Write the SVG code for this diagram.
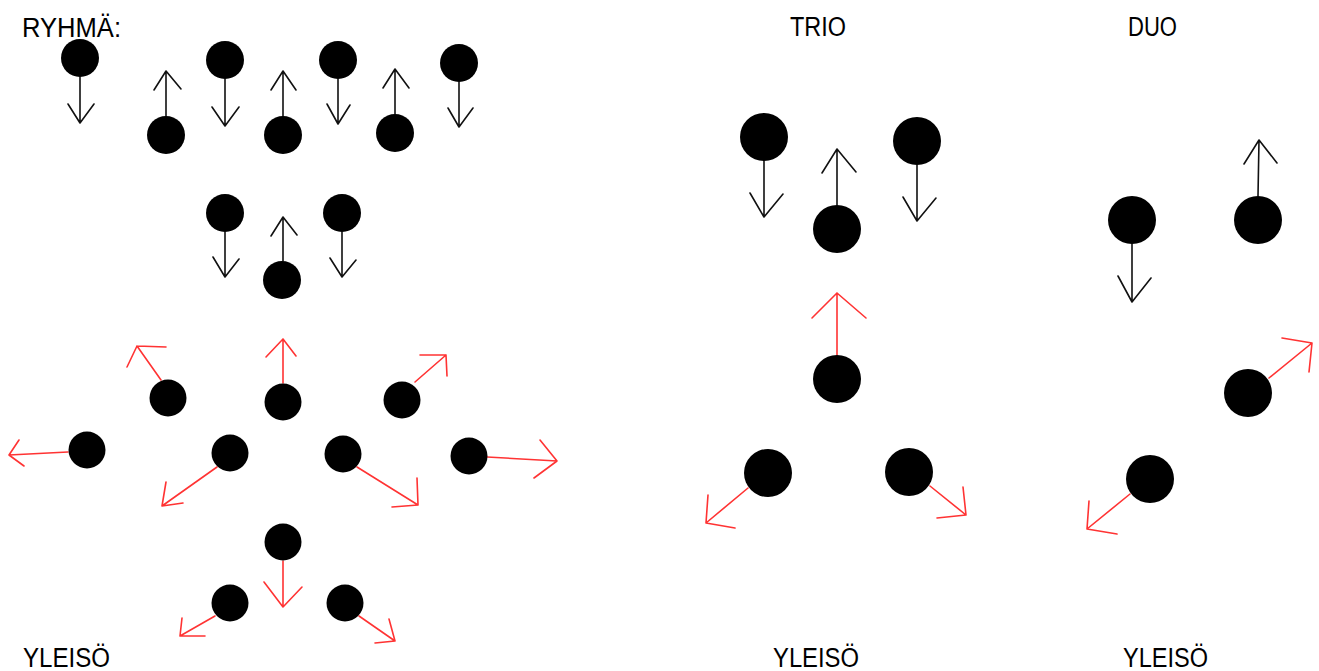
<svg xmlns="http://www.w3.org/2000/svg" width="1319" height="671" viewBox="0 0 1319 671">
<style>
.lbl{font-family:"Liberation Sans",Arial,sans-serif;font-size:27px;fill:#000}
.d{fill:#000}
.b{fill:none;stroke:#111;stroke-width:1.6;stroke-linecap:round;stroke-linejoin:round}
.r{fill:none;stroke:#f33;stroke-width:1.6;stroke-linecap:round;stroke-linejoin:round}
</style>
<rect width="1319" height="671" fill="#fff"/>
<g id="labels">
<text class="lbl" x="22" y="37" textLength="99" lengthAdjust="spacingAndGlyphs">RYHMÄ:</text>
<text class="lbl" x="790" y="36" textLength="56" lengthAdjust="spacingAndGlyphs">TRIO</text>
<text class="lbl" x="1128" y="36" textLength="49" lengthAdjust="spacingAndGlyphs">DUO</text>
<text class="lbl" x="23" y="667" textLength="87" lengthAdjust="spacingAndGlyphs">YLEISÖ</text>
<text class="lbl" x="773" y="667" textLength="86" lengthAdjust="spacingAndGlyphs">YLEISÖ</text>
<text class="lbl" x="1123" y="667" textLength="85" lengthAdjust="spacingAndGlyphs">YLEISÖ</text>
</g>
<g id="connectors">
<path class="b" d="M80,77V123M68,104L80,123L94,104"/>
<path class="b" d="M166,116V71M154,90L166,71L181,89"/>
<path class="b" d="M225,79V126M212,107L225,126L239,107"/>
<path class="b" d="M283,116V71M271,90L283,71L296,90"/>
<path class="b" d="M338,79V124M327,104L338,124L350,105"/>
<path class="b" d="M395,114V69M383,88L395,69L409,88"/>
<path class="b" d="M459,82V127M448,108L459,127L473,108"/>
<path class="b" d="M225,232V277M213,257L225,277L239,259"/>
<path class="b" d="M283,261V217M271,236L283,217L297,235"/>
<path class="b" d="M342,232V277M330,258L342,277L356,260"/>
<path class="r" d="M161,380L137,346M166,347L137,346L127,367"/>
<path class="r" d="M283,383V339M266,357L283,339L296,356"/>
<path class="r" d="M415,382L446,355M420,355L446,355L447,376"/>
<path class="r" d="M68,452L9,455M19,440L9,455L24,466"/>
<path class="r" d="M217,467L162,506M166,482L162,506L183,503"/>
<path class="r" d="M357,467L418,505M417,478L418,505L392,507"/>
<path class="r" d="M487,457L557,461M540,440L557,461L534,478"/>
<path class="r" d="M283,561V607M264,582L283,607L302,587"/>
<path class="r" d="M215,616L180,636M182,618L180,636L205,636"/>
<path class="r" d="M359,616L395,641M389,619L395,641L375,643"/>
<path class="b" d="M764,161V217M750,193L764,217L783,194"/>
<path class="b" d="M837,205V149M822,173L837,149L856,172"/>
<path class="b" d="M917,165V221M903,197L917,221L936,198"/>
<path class="r" d="M837,355V293M812,318L837,293L866,318"/>
<path class="r" d="M748,488L706,523M708,495L706,523L735,528"/>
<path class="r" d="M930,486L966,515M963,487L966,515L937,518"/>
<path class="b" d="M1258,196L1259,140M1244,164L1259,140L1277,163"/>
<path class="b" d="M1132,244V302M1118,276L1132,302L1151,278"/>
<path class="r" d="M1269,378L1312,343M1282,338L1312,343L1309,372"/>
<path class="r" d="M1130,494L1087,529M1089,501L1087,529L1117,534"/>
</g>
<g id="n1"><circle class="d" cx="80" cy="58" r="19"/></g>
<g id="n2"><circle class="d" cx="166" cy="135" r="19"/></g>
<g id="n3"><circle class="d" cx="225" cy="60" r="19"/></g>
<g id="n4"><circle class="d" cx="283" cy="135" r="19"/></g>
<g id="n5"><circle class="d" cx="338" cy="60" r="19"/></g>
<g id="n6"><circle class="d" cx="395" cy="133" r="19"/></g>
<g id="n7"><circle class="d" cx="459" cy="63" r="19"/></g>
<g id="n8"><circle class="d" cx="225" cy="213" r="19"/></g>
<g id="n9"><circle class="d" cx="282" cy="280" r="19"/></g>
<g id="n10"><circle class="d" cx="342" cy="213" r="19"/></g>
<g id="n11"><circle class="d" cx="168" cy="398" r="18.5"/></g>
<g id="n12"><circle class="d" cx="283" cy="402" r="18.5"/></g>
<g id="n13"><circle class="d" cx="402" cy="400" r="18.5"/></g>
<g id="n14"><circle class="d" cx="87" cy="450" r="18.5"/></g>
<g id="n15"><circle class="d" cx="230" cy="453" r="18.5"/></g>
<g id="n16"><circle class="d" cx="343" cy="454" r="18.5"/></g>
<g id="n17"><circle class="d" cx="469" cy="456" r="18.5"/></g>
<g id="n18"><circle class="d" cx="283" cy="542" r="18.5"/></g>
<g id="n19"><circle class="d" cx="230" cy="603" r="18.5"/></g>
<g id="n20"><circle class="d" cx="345" cy="603" r="18.5"/></g>
<g id="t1"><circle class="d" cx="764" cy="137" r="24"/></g>
<g id="t2"><circle class="d" cx="837" cy="229" r="24"/></g>
<g id="t3"><circle class="d" cx="917" cy="141" r="24"/></g>
<g id="t4"><circle class="d" cx="837" cy="379" r="24"/></g>
<g id="t5"><circle class="d" cx="768" cy="473" r="24"/></g>
<g id="t6"><circle class="d" cx="909" cy="472" r="24"/></g>
<g id="d1"><circle class="d" cx="1132" cy="220" r="24"/></g>
<g id="d2"><circle class="d" cx="1258" cy="220" r="24"/></g>
<g id="d3"><circle class="d" cx="1248" cy="393" r="24"/></g>
<g id="d4"><circle class="d" cx="1150" cy="479" r="24"/></g>
</svg>
